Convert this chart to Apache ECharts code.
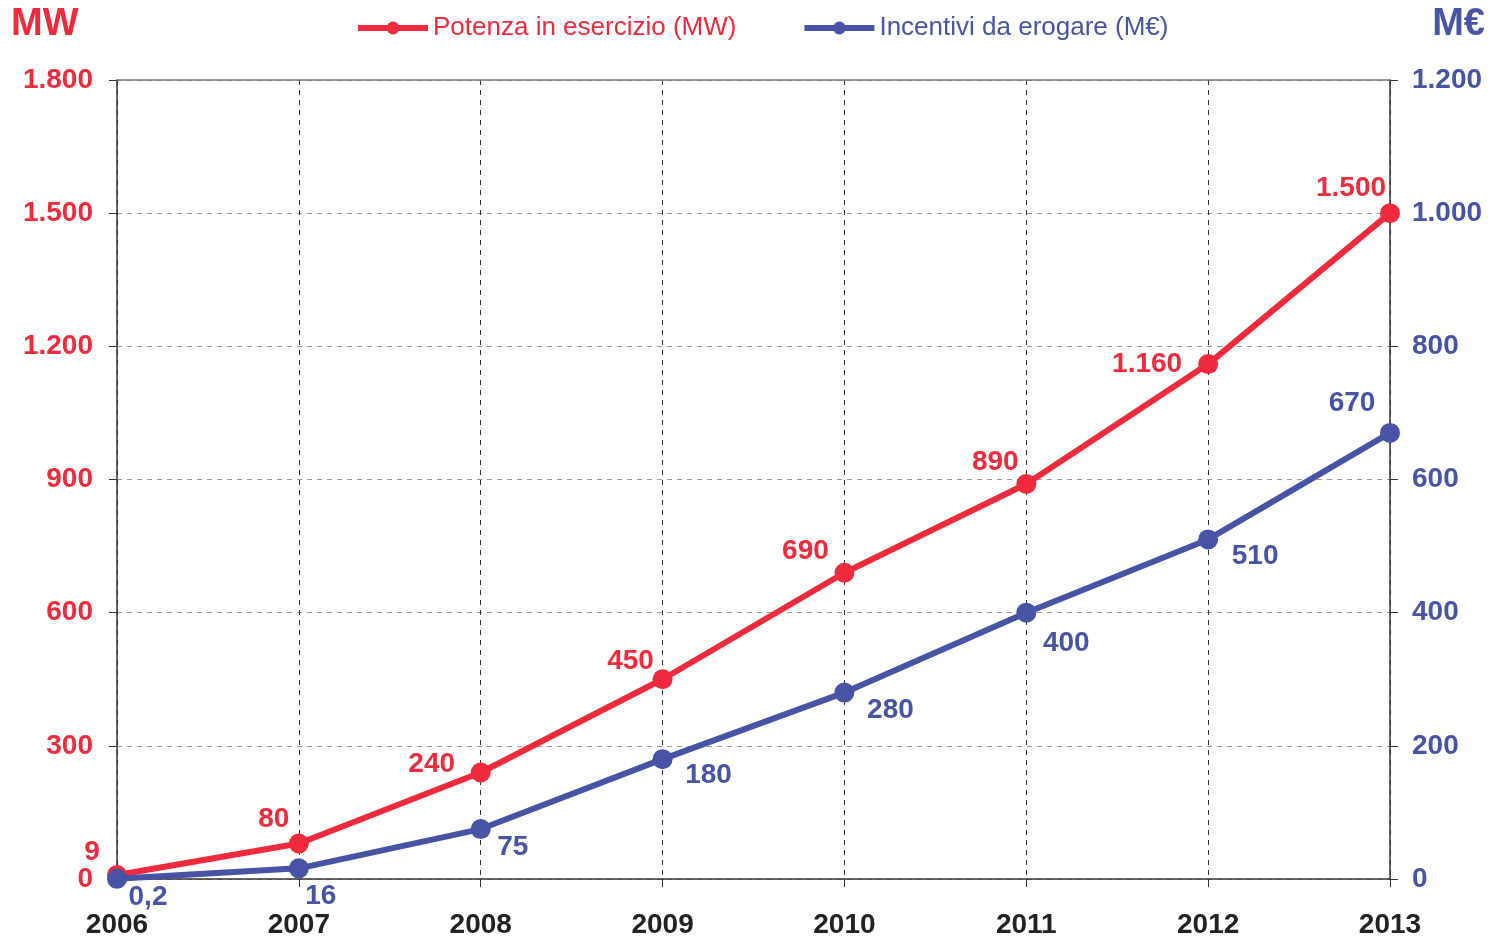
<!DOCTYPE html>
<html>
<head>
<meta charset="utf-8">
<script src="https://cdn.jsdelivr.net/npm/echarts@6/dist/echarts.min.js"></script>
<style>
html, body { margin: 0; padding: 0; background: #fff; }
#chart { width: 1490px; height: 939px; }
</style>
</head>
<body>
<div id="chart"></div>
<script>
var years = ["2006", "2007", "2008", "2009", "2010", "2011", "2012", "2013"];
var potenza = [9, 80, 240, 450, 690, 890, 1160, 1500];
var incentivi = [0.2, 16, 75, 180, 280, 400, 510, 670];
// label offsets relative to the point (px)
var potenzaOffsets = [[-25, -23], [-25, -24], [-49, -8], [-32, -18], [-39, -21], [-31, -22], [-61, 0], [-39, -25]];
var incentiviOffsets = [[31, 18], [22, 28], [32, 18], [46, 16], [46, 18], [40, 31], [47, 17], [-38, -30]];

var RED = "#ee2a3c";
var BLUE = "#4754a6";
var FONT = "Liberation Sans";

function fmt(v) {
    var s = String(v).replace(".", ",");
    var parts = s.split(",");
    parts[0] = parts[0].replace(/\B(?=(\d{3})+(?!\d))/g, ".");
    return parts.join(",");
}

function mkData(vals, offs) {
    var out = [];
    for (var i = 0; i < vals.length; i++) {
        out.push({ value: vals[i], label: { offset: offs[i] } });
    }
    return out;
}

var chart = echarts.init(document.getElementById("chart"));
chart.setOption({
    animation: false,
    title: [
        { text: "MW", left: 6, top: 1, textStyle: { color: RED, fontFamily: FONT, fontWeight: "bold", fontSize: 38 } },
        { text: "M€", right: 0, top: 1, textStyle: { color: BLUE, fontFamily: FONT, fontWeight: "bold", fontSize: 38 } }
    ],
    legend: {
        top: 15,
        left: 355,
        padding: 0,
        itemGap: 65,
        itemWidth: 70,
        itemHeight: 16,
        textStyle: { fontFamily: FONT, fontSize: 26 },
        data: [
            { name: "Potenza in esercizio (MW)", textStyle: { color: RED }, lineStyle: { width: 6, color: RED } },
            { name: "Incentivi da erogare (M€)", textStyle: { color: BLUE }, lineStyle: { width: 6, color: BLUE } }
        ]
    },
    grid: { left: 117, right: 100, top: 80, bottom: 59 },
    xAxis: [{
        type: "category",
        data: years,
        boundaryGap: false,
        axisLine: { lineStyle: { color: "#333", width: 1.5 } },
        axisTick: { show: true, length: 8, lineStyle: { color: "#333" } },
        axisLabel: { color: "#222", fontFamily: FONT, fontWeight: "bold", fontSize: 28, margin: 32 },
        splitLine: { show: true, lineStyle: { color: "#333", type: [5, 5], width: 1 } },
        z: 3
    }, {
        type: "category",
        data: years,
        position: "top",
        boundaryGap: false,
        axisLine: { onZero: false, lineStyle: { color: "#777", width: 1.5 } },
        axisTick: { show: false },
        axisLabel: { show: false },
        z: 4
    }],
    yAxis: [{
        type: "value",
        min: 0,
        max: 1800,
        interval: 300,
        axisLine: { show: true, onZero: false, lineStyle: { color: "#333", width: 1.5 } },
        axisTick: { show: true, length: 8, lineStyle: { color: "#333" } },
        axisLabel: { color: RED, fontFamily: FONT, fontWeight: "bold", fontSize: 28, margin: 24, formatter: fmt },
        splitLine: { show: true, lineStyle: { color: "#999", type: [5, 5], width: 1 } },
        z: 2
    }, {
        type: "value",
        min: 0,
        max: 1200,
        interval: 200,
        position: "right",
        axisLine: { show: true, onZero: false, lineStyle: { color: "#333", width: 1.5 } },
        axisTick: { show: true, length: 8, lineStyle: { color: "#333" } },
        axisLabel: { color: BLUE, fontFamily: FONT, fontWeight: "bold", fontSize: 28, margin: 22, formatter: fmt },
        splitLine: { show: false },
        z: 2
    }],
    series: [{
        name: "Potenza in esercizio (MW)",
        type: "line",
        yAxisIndex: 0,
        data: mkData(potenza, potenzaOffsets),
        symbol: "circle",
        symbolSize: 20,
        lineStyle: { color: RED, width: 6 },
        itemStyle: { color: RED },
        label: {
            show: true, position: "inside", color: RED,
            fontFamily: FONT, fontWeight: "bold", fontSize: 28,
            formatter: function (p) { return fmt(p.value); }
        },
        z: 5
    }, {
        name: "Incentivi da erogare (M€)",
        type: "line",
        yAxisIndex: 1,
        data: mkData(incentivi, incentiviOffsets),
        symbol: "circle",
        symbolSize: 20,
        lineStyle: { color: BLUE, width: 6 },
        itemStyle: { color: BLUE },
        label: {
            show: true, position: "inside", color: BLUE,
            fontFamily: FONT, fontWeight: "bold", fontSize: 28,
            formatter: function (p) { return fmt(p.value); }
        },
        z: 6
    }]
});
</script>
</body>
</html>
